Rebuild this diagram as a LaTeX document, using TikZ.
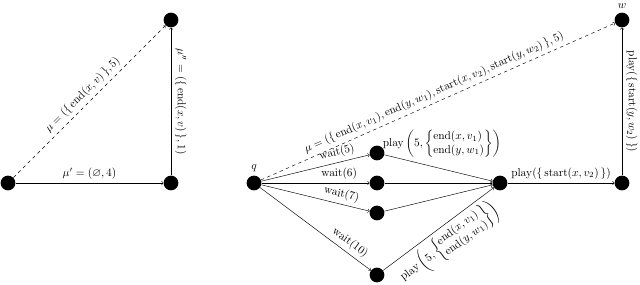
\documentclass[tikz,border=0pt]{standalone}
\usepackage{amsmath,amssymb}
\usetikzlibrary{calc}

\begin{document}
\begin{tikzpicture}[x=0.88pt,y=-0.88pt,
  dot/.style={circle, fill=black, inner sep=0pt, minimum size=13pt},
  edge/.style={->, thin},
  move/.style={->, thin, dashed}]
  \useasboundingbox (0,0) rectangle (640,284);
  % Kairysis trikampis
  \node[dot] (A) at (8,183) {};
  \node[dot] (B) at (171,183) {};
  \node[dot] (C) at (171,20) {};
  % Dešinysis grafas
  \node[dot, label=above:$q$] (q) at (254,183) {};
  \node[dot] (p1) at (377,153) {};
  \node[dot] (p2) at (377,183) {};
  \node[dot] (p3) at (377,213) {};
  \node[dot] (p4) at (377,275) {};
  \node[dot] (s) at (500,183) {};
  \node[dot] (t) at (622,183) {};
  \node[dot, label=above:$w$] (w) at (622,20) {};

  \draw[edge] (A) -- node[above] {$\mu'=(\varnothing,4)$} (B);
  \draw[edge] (B) -- node[anchor=south, rotate=-90] {$\mu''=(\{\,\mathrm{end}(x,v)\,\},1)$} (C);
  \draw[move] (A) -- node[above, sloped] {$\mu=(\{\,\mathrm{end}(x,v)\,\},5)$} (C);

  \draw[edge] (q) -- node[pos=0.72, above, sloped] {$\mathrm{wait}(5)$} (p1);
  \draw[edge] (q) -- node[pos=0.72, above] {$\mathrm{wait}(6)$} (p2);
  \draw[edge] (q) -- node[pos=0.72, above, sloped] {$\mathrm{wait}(7)$} (p3);
  \draw[edge] (q) -- node[pos=0.76, above, sloped] {$\mathrm{wait}(10)$} (p4);
  \draw[edge] (p1) -- node[above, xshift=3pt, yshift=6pt]
    {$\mathrm{play}\left(5,\left\{\begin{array}{@{}l@{}}\mathrm{end}(x,v_1)\\ \mathrm{end}(y,w_1)\end{array}\right\}\right)$} (s);
  \draw[edge] (p2) -- (s);
  \draw[edge] (p3) -- (s);
  \draw[edge] (p4) -- node[below, sloped]
    {$\mathrm{play}\left(5,\left\{\begin{array}{@{}l@{}}\mathrm{end}(x,v_1)\\ \mathrm{end}(y,w_1)\end{array}\right\}\right)$} (s);
  \draw[edge] (s) -- node[above] {$\mathrm{play}(\{\,\mathrm{start}(x,v_2)\,\})$} (t);
  \draw[edge] (t) -- node[anchor=south, rotate=-90] {$\mathrm{play}(\{\,\mathrm{start}(y,w_2)\,\})$} (w);
  \draw[move] (q) -- node[above, sloped]
    {$\mu=(\{\,\mathrm{end}(x,v_1),\mathrm{end}(y,w_1),\mathrm{start}(x,v_2),\mathrm{start}(y,w_2)\,\},5)$} (w);
\end{tikzpicture}
\end{document}
